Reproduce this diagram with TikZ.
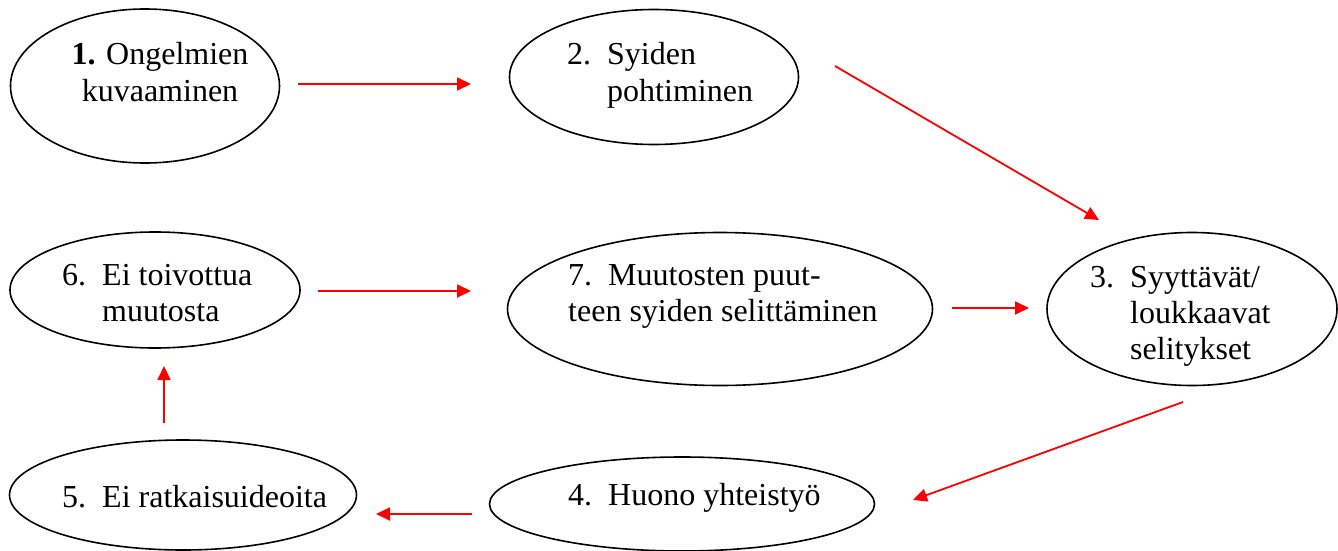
\documentclass[tikz,border=0pt]{standalone}
\usepackage{fontspec}
\setmainfont{Liberation Serif}
\usetikzlibrary{shapes.geometric,arrows.meta}

\newcommand{\nr}[1]{\makebox[40pt][l]{#1}}
\newcommand{\rows}[1]{\begin{tabular}[t]{@{}l@{}}#1\end{tabular}}

\begin{document}
\begin{tikzpicture}[x=1pt,y=-1pt,
    stage/.style={draw, ellipse, line width=1.6pt, inner sep=0pt},
    txt/.style={anchor=base west, inner sep=0pt, font=\fontsize{32}{36}\selectfont},
    arr/.style={red, line width=1.8pt, -{Triangle[length=14pt,width=13pt]}}]
  \useasboundingbox (0,0) rectangle (1338,551);

  % \node [stage](e0) at (0,0) {};
  \node [stage, minimum width=269pt, minimum height=154pt](e1) at (145,86) {};
  \node [stage, minimum width=289pt, minimum height=135pt](e2) at (654,77) {};
  \node [stage, minimum width=290pt, minimum height=153pt](e3) at (1192,309) {};
  \node [stage, minimum width=385pt, minimum height=94pt](e4) at (682,504) {};
  \node [stage, minimum width=347pt, minimum height=110pt](e5) at (183,495) {};
  \node [stage, minimum width=290pt, minimum height=116pt](e6) at (155,290) {};
  \node [stage, minimum width=425pt, minimum height=153pt](e7) at (720,309) {};

  % texts
  \node [txt, anchor=base](t1) at (160,65)
    {\begin{tabular}[t]{@{}c@{}}\textbf{1.} Ongelmien\\ kuvaaminen\end{tabular}};
  \node [txt](t2) at (567,65) {\rows{\nr{2.}Syiden\\ \nr{}pohtiminen}};
  \node [txt](t3) at (1090,287) {\rows{\nr{3.}Syyttävät/\\ \nr{}loukkaavat\\ \nr{}selitykset}};
  \node [txt](t4) at (568,505) {\nr{4.}Huono yhteistyö};
  \node [txt](t5) at (62,507) {\nr{5.}Ei ratkaisuideoita};
  \node [txt](t6) at (62,285) {\rows{\nr{6.}Ei toivottua\\ \nr{}muutosta}};
  \node [txt](t7) at (568,285) {\rows{\nr{7.}Muutosten puut-\\ teen syiden selittäminen}};

  % arrow ends
  \coordinate (a1s) at (298,84);  \coordinate (a1e) at (471,84);
  \coordinate (a2s) at (835,66);  \coordinate (a2e) at (1099,220);
  \coordinate (a3s) at (1183,402); \coordinate (a3e) at (913,500);
  \coordinate (a4s) at (472,514); \coordinate (a4e) at (376,514);
  \coordinate (a5s) at (164,423); \coordinate (a5e) at (164,366);
  \coordinate (a6s) at (318,291); \coordinate (a6e) at (471,291);
  \coordinate (a7s) at (952,308); \coordinate (a7e) at (1029,308);

  \foreach \i in {1,...,7}
    \draw [arr] (a\i s) -- (a\i e);
\end{tikzpicture}
\end{document}
